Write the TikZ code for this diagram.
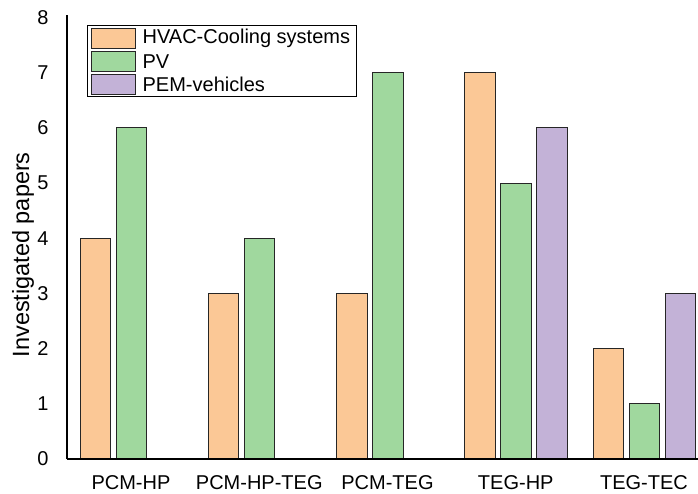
\documentclass[tikz,border=0pt]{standalone}
\usepackage{fontspec}
\setmainfont{Liberation Sans}
\usetikzlibrary{positioning}
\definecolor{hvac}{RGB}{251,200,150}
\definecolor{pv}{RGB}{160,216,158}
\definecolor{pem}{RGB}{195,178,215}
\tikzset{
  bar/.style={draw=black!85, line width=0.9pt},
  lbl/.style={font=\fontsize{20}{23}\selectfont, inner sep=0pt},
  swatch/.style={draw=black!85, line width=0.9pt, minimum width=44pt, minimum height=20pt, inner sep=0pt},
}
\begin{document}
\begin{tikzpicture}[x=1pt, y=55.2pt]
\useasboundingbox (-67pt,-34pt) rectangle (631pt,459pt);

% bars: group / slot / value / colour
\foreach \g/\k/\v/\col in {0/0/4/hvac, 0/1/6/pv, 1/0/3/hvac, 1/1/4/pv,
  2/0/3/hvac, 2/1/7/pv, 3/0/7/hvac, 3/1/5/pv, 3/2/6/pem,
  4/0/2/hvac, 4/1/1/pv, 4/2/3/pem} {
  \draw[bar, fill=\col] ({13+128.25*\g+36*\k},0) rectangle ++(30.5,\v);
}

% axes
\draw[line width=1.5pt] (0,0) -- (631,0);
\draw[line width=1.2pt] (0,0) -- (0,8.05);
\foreach \t in {0,...,8} {
  \node[lbl] (tick\t) at (-24,\t) {\t};
}
\foreach \n/\g in {PCM-HP/0, PCM-HP-TEG/1, PCM-TEG/2, TEG-HP/3, TEG-TEC/4} {
  \node[lbl] (grp\g) at ({64+128.25*\g},-0.435) {\n};
}
\node[font=\fontsize{23.5}{27}\selectfont, rotate=90, inner sep=0pt] (ylab) at (-44,3.7) {Investigated papers};

% legend
\draw[line width=0.8pt] (20,6.576) rectangle (289,7.862);
\node[swatch, fill=hvac] (keyhvac) at (46,7.627) {};
\node[swatch, fill=pv, below=2.5pt of keyhvac] (keypv) {};
\node[swatch, fill=pem, below=2.5pt of keypv] (keypem) {};
\node[lbl, right=7pt of keyhvac] (namehvac) {HVAC-Cooling systems};
\node[lbl, right=7pt of keypv] (namepv) {PV};
\node[lbl, right=7pt of keypem] (namepem) {PEM-vehicles};
\end{tikzpicture}
\end{document}
